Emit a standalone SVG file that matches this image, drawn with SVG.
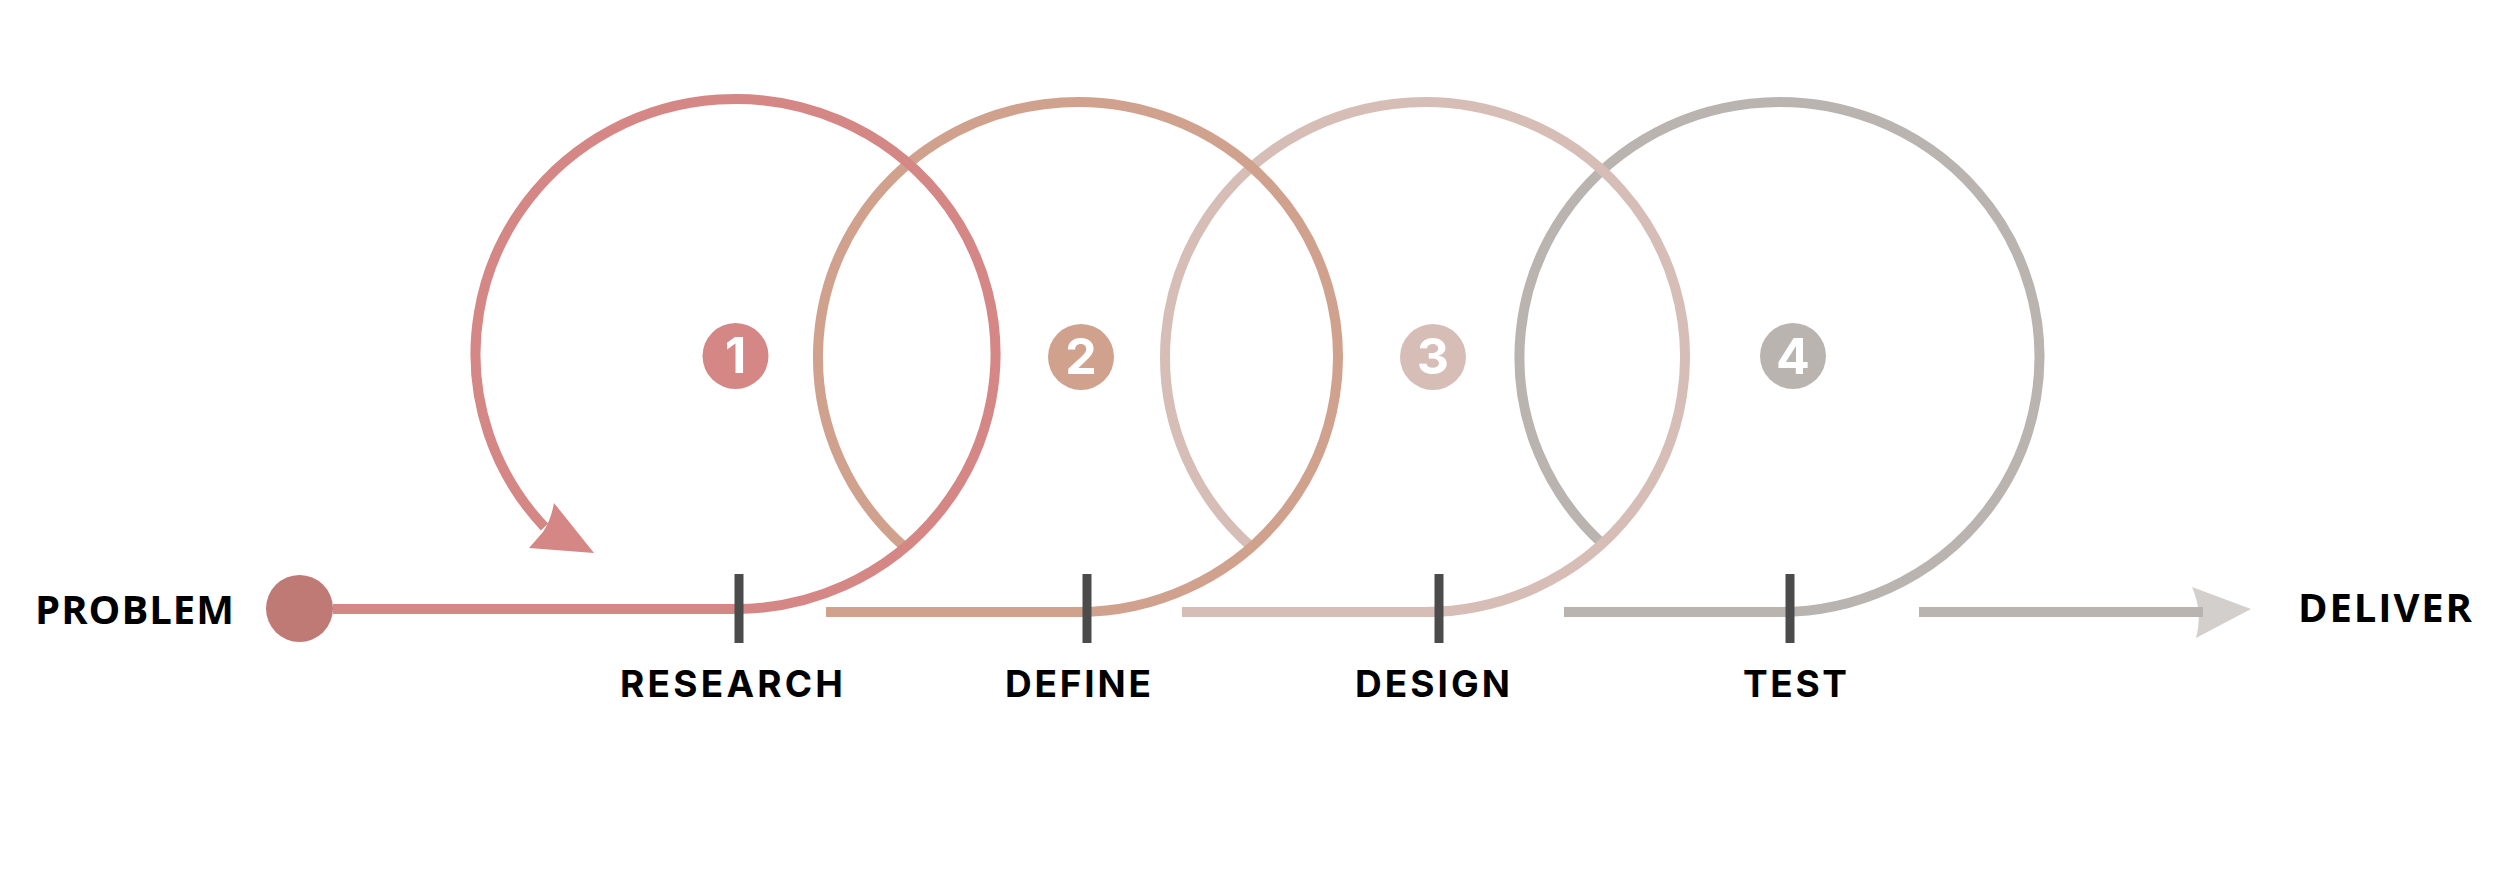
<svg xmlns="http://www.w3.org/2000/svg" width="2500" height="892" viewBox="0 0 2500 892">
  <style>
    .loop { fill: none; stroke-width: 10; }
    .seg { fill: none; stroke-width: 10; stroke-linecap: butt; }
    .tick { stroke: #4B4B4B; stroke-width: 9; }
    .c1 { stroke: #D48785; }
    .c2 { stroke: #D0A28E; }
    .c3 { stroke: #D6BEB6; }
    .c4 { stroke: #BAB4B1; }
    .f1 { fill: #D48785; }
    .f2 { fill: #D0A28E; }
    .f3 { fill: #D6BEB6; }
    .f4 { fill: #BAB4B1; }
    .num { font-family: Inter, "Liberation Sans", sans-serif; font-weight: 700; font-size: 50px; fill: #FFFFFF; text-anchor: middle; }
    .label { font-family: Inter, "Liberation Sans", sans-serif; font-weight: 700; font-size: 37px; fill: #000000; }
    .end { font-family: "Open Sans", "Liberation Sans", sans-serif; font-weight: 700; font-size: 40px; fill: #000000; }
  </style>
  <rect x="0" y="0" width="2500" height="892" fill="#FFFFFF"/>

  <g id="connectors">
    <line class="seg c1" x1="333" y1="609" x2="739" y2="609"/>
    <line class="seg c2" x1="826" y1="612" x2="1087" y2="612"/>
    <line class="seg c3" x1="1182" y1="612" x2="1439" y2="612"/>
    <line class="seg c4" x1="1564" y1="612" x2="1790" y2="612"/>
    <path d="M2192,587 L2251,609 L2196,638 Q2203,612 2192,587 Z" fill="#D3CFCC"/>
    <line class="seg c4" x1="1919" y1="612" x2="2203" y2="612"/>
  </g>

  <g id="stage4">
    <path class="loop c4" d="M1779.5,612 A260,255 0 1 0 1602.25,543.6"/>
    <line class="tick" x1="1790" y1="574" x2="1790" y2="643"/>
    <circle class="f4" cx="1793" cy="356" r="33"/>
    <text class="num" x="1793" y="374">4</text>
    <text class="label" x="1743" y="697" textLength="104" lengthAdjust="spacing">TEST</text>
  </g>

  <g id="stage3">
    <path class="loop c3" d="M1425,612 A260,255 0 1 0 1251.5,546.9"/>
    <line class="tick" x1="1439" y1="574" x2="1439" y2="643"/>
    <circle class="f3" cx="1433" cy="357" r="33"/>
    <text class="num" x="1433" y="374">3</text>
    <text class="label" x="1355" y="697" textLength="155" lengthAdjust="spacing">DESIGN</text>
  </g>

  <g id="stage2">
    <path class="loop c2" d="M1078,612 A260,255 0 1 0 906.75,548.9"/>
    <line class="tick" x1="1087" y1="574" x2="1087" y2="643"/>
    <circle class="f2" cx="1081" cy="357" r="33"/>
    <text class="num" x="1081" y="374">2</text>
    <text class="label" x="1005" y="697" textLength="146" lengthAdjust="spacing">DEFINE</text>
  </g>

  <g id="stage1">
    <path class="loop c1" d="M735.5,609 A260,255 0 1 0 544.5,527"/>
    <path class="f1" d="M554,503 L594,553 L529,548 L543,532 Q551,520 554,503 Z"/>
    <line class="tick" x1="739" y1="574" x2="739" y2="643"/>
    <circle class="f1" cx="735.5" cy="356" r="33"/>
    <text class="num" x="735.5" y="373">1</text>
    <text class="label" x="620" y="697" textLength="223" lengthAdjust="spacing">RESEARCH</text>
  </g>

  <g id="problem">
    <circle cx="299.5" cy="608.5" r="33.5" fill="#C07A76"/>
    <text class="end" x="35" y="624" textLength="199" lengthAdjust="spacing">PROBLEM</text>
  </g>

  <g id="deliver">
    <text class="end" x="2298" y="622" textLength="174" lengthAdjust="spacing">DELIVER</text>
  </g>
</svg>
